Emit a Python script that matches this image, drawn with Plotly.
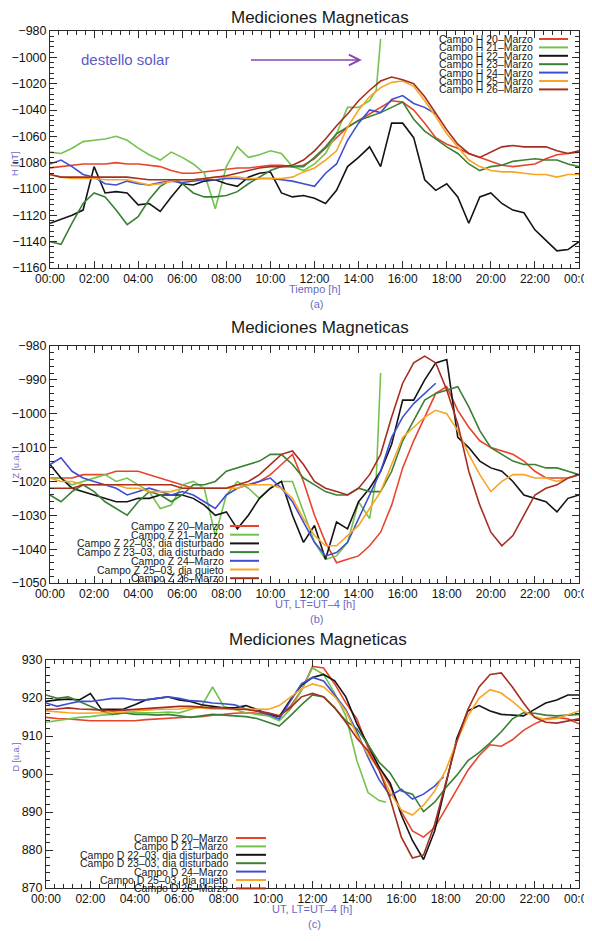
import plotly.graph_objects as go

W, H = 592, 941
OFF = 8          # the html body margin shifts the figure by 8 px
FW, FH = W - OFF, H - OFF
FONT = "Liberation Sans, Arial, Helvetica, sans-serif"

# ---------------- data ----------------
HOURS = [0, 0.5, 1, 1.5, 2, 2.5, 3, 3.5, 4, 4.5, 5, 5.5, 6, 6.5, 7, 7.5, 8, 8.5, 9, 9.5,
         10, 10.5, 11, 11.5, 12, 12.5, 13, 13.5, 14, 14.5, 15, 15.5, 16, 16.5, 17, 17.5,
         18, 18.5, 19, 19.5, 20, 20.5, 21, 21.5, 22, 22.5, 23, 23.5, 24]
HOURS_21_AB = HOURS[:30] + [14.8, 15.0]      # 21-Marzo record stops at the flare
HOURS_21_C = HOURS[:30] + [15.0, 15.3]
HOURS_24_AB = HOURS[:36]                    # 24-Marzo record stops ~17:30
HOURS_24_C = HOURS[:36] + [17.9]

TICK_VALS = [0, 2, 4, 6, 8, 10, 12, 14, 16, 18, 20, 22, 24]
TICK_TEXT = ["00:00", "02:00", "04:00", "06:00", "08:00", "10:00", "12:00",
             "14:00", "16:00", "18:00", "20:00", "22:00", "00:00"]

# Panel (a): campo H [nT]
H20 = [-1084,-1083,-1082,-1081,-1081,-1081,-1080,-1081,-1081,-1082,-1083,-1086,-1088,-1088,-1087,-1086,-1085,-1084,-1084,-1083,
       -1082,-1082,-1083,-1082,-1077,-1069,-1061,-1053,-1048,-1043,-1038,-1033,-1034,-1040,-1050,-1061,-1066,-1069,-1073,-1076,
       -1079,-1082,-1083,-1082,-1081,-1077,-1074,-1073,-1072]
H21 = [-1072,-1073,-1069,-1064,-1063,-1062,-1060,-1063,-1069,-1074,-1078,-1072,-1076,-1081,-1088,-1115,-1083,-1068,-1076,-1074,
       -1071,-1073,-1083,-1086,-1081,-1073,-1058,-1038,-1038,-1033,-1025,-986]
H22 = [-1126,-1123,-1120,-1116,-1083,-1103,-1102,-1103,-1112,-1111,-1117,-1106,-1096,-1097,-1094,-1093,-1096,-1098,-1091,-1088,
       -1087,-1103,-1106,-1105,-1107,-1111,-1101,-1083,-1076,-1068,-1083,-1050,-1050,-1061,-1093,-1101,-1096,-1106,-1126,-1106,
       -1103,-1111,-1116,-1118,-1131,-1139,-1147,-1146,-1140]
H23 = [-1140,-1142,-1126,-1111,-1103,-1106,-1116,-1127,-1121,-1108,-1098,-1093,-1096,-1103,-1106,-1106,-1105,-1102,-1096,-1091,
       -1086,-1083,-1083,-1083,-1076,-1068,-1058,-1053,-1048,-1045,-1042,-1038,-1034,-1047,-1056,-1062,-1068,-1073,-1081,-1086,
       -1083,-1082,-1079,-1078,-1077,-1078,-1078,-1081,-1083]
H24 = [-1081,-1078,-1083,-1089,-1091,-1096,-1097,-1094,-1096,-1097,-1095,-1094,-1095,-1094,-1093,-1093,-1092,-1092,-1093,-1092,
       -1092,-1093,-1094,-1096,-1098,-1088,-1081,-1063,-1050,-1040,-1042,-1032,-1029,-1035,-1038,-1043]
H25 = [-1089,-1091,-1092,-1092,-1092,-1093,-1093,-1093,-1095,-1097,-1096,-1094,-1093,-1093,-1092,-1091,-1091,-1091,-1092,-1092,
       -1092,-1092,-1091,-1087,-1084,-1078,-1071,-1053,-1040,-1030,-1023,-1019,-1018,-1022,-1033,-1045,-1058,-1068,-1078,-1083,
       -1086,-1087,-1087,-1088,-1089,-1089,-1091,-1089,-1089]
H26 = [-1089,-1091,-1091,-1091,-1091,-1091,-1091,-1091,-1092,-1093,-1093,-1093,-1093,-1093,-1092,-1091,-1090,-1088,-1086,-1084,
       -1083,-1083,-1082,-1078,-1071,-1062,-1052,-1043,-1033,-1025,-1018,-1015,-1017,-1020,-1030,-1043,-1055,-1066,-1073,-1076,
       -1072,-1068,-1067,-1068,-1068,-1068,-1071,-1073,-1071]

# Panel (b): campo Z [u.a.]
Z20 = [-1019,-1019,-1019,-1018,-1018,-1018,-1017,-1017,-1017,-1018,-1019,-1020,-1021,-1022,-1022,-1022,-1022,-1021,-1021,-1020,
       -1018,-1015,-1012,-1020,-1030,-1038,-1044,-1043,-1042,-1039,-1035,-1027,-1016,-1008,-1001,-994,-992,-999,-1004,-1008,
       -1010,-1011,-1012,-1014,-1017,-1019,-1019,-1019,-1018]
Z21 = [-1019,-1019,-1021,-1020,-1019,-1018,-1020,-1019,-1021,-1023,-1028,-1027,-1021,-1020,-1022,-1036,-1024,-1020,-1022,-1025,
       -1022,-1020,-1020,-1029,-1038,-1043,-1042,-1038,-1026,-1031,-1019,-988]
Z22 = [-1015,-1019,-1022,-1023,-1024,-1025,-1026,-1026,-1025,-1025,-1024,-1024,-1024,-1025,-1027,-1030,-1029,-1034,-1030,-1025,
       -1022,-1020,-1030,-1038,-1033,-1043,-1032,-1034,-1026,-1022,-1017,-1009,-996,-996,-990,-985,-984,-1007,-1010,-1014,
       -1016,-1017,-1020,-1024,-1025,-1026,-1029,-1025,-1024]
Z23 = [-1024,-1026,-1023,-1021,-1023,-1026,-1028,-1030,-1026,-1023,-1024,-1026,-1024,-1021,-1021,-1020,-1017,-1016,-1015,-1014,
       -1012,-1012,-1015,-1019,-1021,-1023,-1024,-1024,-1022,-1023,-1023,-1017,-1008,-1002,-996,-994,-993,-992,-998,-1005,
       -1010,-1012,-1014,-1015,-1015,-1016,-1016,-1017,-1018]
Z24 = [-1015,-1013,-1017,-1019,-1020,-1021,-1022,-1024,-1023,-1022,-1023,-1024,-1023,-1024,-1026,-1028,-1024,-1022,-1021,-1020,
       -1019,-1022,-1026,-1032,-1038,-1042,-1041,-1038,-1031,-1024,-1017,-1007,-1001,-997,-994,-991]
Z25 = [-1019,-1020,-1020,-1021,-1021,-1021,-1021,-1022,-1022,-1023,-1023,-1023,-1022,-1022,-1022,-1022,-1022,-1022,-1021,-1021,
       -1021,-1022,-1025,-1031,-1036,-1039,-1039,-1036,-1033,-1028,-1023,-1015,-1007,-1004,-1001,-999,-1000,-1005,-1012,-1018,
       -1023,-1020,-1018,-1018,-1019,-1019,-1020,-1019,-1018]
Z26 = [-1022,-1022,-1022,-1021,-1021,-1021,-1021,-1021,-1021,-1021,-1021,-1021,-1022,-1022,-1022,-1022,-1022,-1021,-1020,-1018,
       -1015,-1012,-1011,-1015,-1020,-1022,-1023,-1024,-1022,-1018,-1012,-1001,-991,-985,-983,-985,-993,-1003,-1017,-1027,
       -1035,-1039,-1036,-1030,-1024,-1022,-1021,-1019,-1018]

# Panel (c): campo D [u.a.]
D20 = [914.9,914.6,914.5,914.3,914,914,914,914,914,914.3,914.5,914.6,914.9,915,915.1,915.5,915.7,916,916.1,916,
       915.7,915.3,917.8,922,928.3,927.9,923.7,918.7,914.5,906.9,901.8,896.8,890.1,885,883.4,885.9,890.9,896,901,904.8,
       907.7,907.3,909,911.5,913.2,914.5,914.9,914.5,913.2]
D21 = [913.6,914,914.5,914.9,915.1,915.5,915.7,916,916.1,916.1,916.1,916.3,916.1,917,917.8,922.9,917.8,917,916.1,915.7,
       915.3,914,917,922,927.9,926.2,921.2,915.3,903.5,895.1,893,892.6]
D22 = [919.1,919.5,919.7,919.5,921.2,917,917,917.1,918.2,919.5,919.9,920.3,919.5,919.1,918.2,917.8,917.4,917.4,918,917,
       915.7,915.1,919.5,923.3,925.4,926.2,924.5,920.3,913.2,907.7,901.8,897.6,889.2,882.5,877.5,885,897.6,909.4,916.6,918,
       916.6,915.7,915.5,915.3,917,918.7,919.5,920.8,920.8]
D23 = [920.8,919.9,920.3,919.1,917.8,916.6,915.7,916.1,915.7,915.7,915.5,915.7,915.3,914.9,915.3,915.7,915.5,915.3,915.1,914.6,
       913.6,912.6,915.3,918.2,920.8,920.3,917.4,914,911.9,907.7,903.1,900.2,895.5,894.7,890.1,892.6,896.4,899.7,903.5,905.6,
       908.2,911.1,914.5,916.1,916,915.5,915.3,915.5,915.7]
D24 = [918.7,917.8,918.5,919.1,919.1,919.5,919.9,919.9,919.5,919.5,919.9,920.3,919.9,919.3,919.1,918.7,918.5,918.2,917.1,916.6,
       915.7,914.5,919.1,923.7,925.4,924.5,920.8,917,911.1,904.4,898.5,894.3,896,893.4,894.7,896.8,899.3]
D25 = [916.6,916.3,916.1,916,916,916.1,916.1,916.3,916.6,916.8,917,917.1,917.1,917.4,917.4,917.1,917,917,917.1,917,
       917,918,920.3,922.4,923.7,922.9,920.3,916.6,910.3,905.2,901,895.1,890.5,889.2,891.8,895.5,901,908.6,915.3,919.9,
       922.2,921.3,919.1,916.6,915.1,914.3,914.6,915.7,916.6]
D26 = [917,917.1,917.4,917.1,917,916.8,916.6,916.8,917,917.1,917.4,917.6,917.8,917.8,917.6,917.4,917.4,917.1,917,916.6,
       916.1,915.3,917.4,920.3,921.2,920.3,917.4,913.6,909.4,906.1,901,893.4,883.4,877.9,878.7,886.7,897.6,908.6,917,922.9,
       926.2,926.6,922.9,918.7,914.9,913.6,913.4,914,914.5]

LEG_A = ["Campo H 20–Marzo", "Campo H 21–Marzo", "Campo H 22–Marzo", "Campo H 23–Marzo",
         "Campo H 24–Marzo", "Campo H 25–Marzo", "Campo H 26–Marzo"]
LEG_B = ["Campo Z 20–Marzo", "Campo Z 21–Marzo", "Campo Z 22–03, dia disturbado",
         "Campo Z 23–03, dia disturbado", "Campo Z 24–Marzo", "Campo Z 25–03, dia quieto", "Campo Z 26–Marzo"]
LEG_C = ["Campo D 20–Marzo", "Campo D 21–Marzo", "Campo D 22–03, dia disturbado",
         "Campo D 23–03, dia disturbado", "Campo D 24–Marzo", "Campo D 25–03, dia quieto", "Campo D 26–Marzo"]

COLORS = ["#e8442c", "#74c34e", "#141414", "#3a8035", "#3e4fd2", "#f8a526", "#a52f1f"]

# ---------------- figure ----------------
def px_x(v):
    return (v - OFF) / FW

def px_y(v):
    return 1 - (v - OFF) / FH

PANELS = [
    dict(ax="", x0=50, x1=579, top=31, bot=268, yr=[-1160, -980], dt=20, mdt=4,
         xs=[HOURS, HOURS_21_AB, HOURS, HOURS, HOURS_24_AB, HOURS, HOURS],
         ys=[H20, H21, H22, H23, H24, H25, H26], leg=LEG_A,
         legx=535, legl=(539, 568), legy0=39, legdy=8.4,
         xlabel="Tiempo [h]", tag="(a)", ylabel="H [nT]", title_y=17),
    dict(ax="2", x0=50, x1=579, top=346, bot=583, yr=[-1050, -980], dt=10, mdt=2,
         xs=[HOURS, HOURS_21_AB, HOURS, HOURS, HOURS_24_AB, HOURS, HOURS],
         ys=[Z20, Z21, Z22, Z23, Z24, Z25, Z26], leg=LEG_B,
         legx=226, legl=(230, 259), legy0=526, legdy=8.7,
         xlabel="UT, LT=UT–4 [h]", tag="(b)", ylabel="Z [u.a.]", title_y=327),
    dict(ax="3", x0=46, x1=579, top=660, bot=888, yr=[870, 930], dt=10, mdt=2,
         xs=[HOURS, HOURS_21_C, HOURS, HOURS, HOURS_24_C, HOURS, HOURS],
         ys=[D20, D21, D22, D23, D24, D25, D26], leg=LEG_C,
         legx=230, legl=(236, 266), legy0=838, legdy=8.4,
         xlabel="UT, LT=UT–4 [h]", tag="(c)", ylabel="D [u.a.]", title_y=639),
]

fig = go.Figure()
layout = dict(width=FW, height=FH, margin=dict(l=0, r=0, t=0, b=0), autosize=False,
              template="none", paper_bgcolor="white", plot_bgcolor="white",
              showlegend=False, font=dict(family=FONT, color="#111"))
annotations, shapes = [], []
LABEL_COLOR = "#6a6ac4"

axis_common = dict(showline=True, linecolor="#2a2a2a", linewidth=1, mirror="ticks",
                   ticks="inside", ticklen=7, tickwidth=1, tickcolor="#2a2a2a",
                   showgrid=False, zeroline=False, automargin=False,
                   ticklabeloverflow="allow",
                   tickfont=dict(family=FONT, size=12.5, color="#111"))

for p in PANELS:
    xa, ya = "x" + p["ax"], "y" + p["ax"]
    for xs, ys, col in zip(p["xs"], p["ys"], COLORS):
        fig.add_trace(go.Scatter(x=xs, y=ys, mode="lines", xaxis=xa, yaxis=ya,
                                 line=dict(color=col, width=1.6), hoverinfo="skip"))
    layout["xaxis" + p["ax"]] = dict(
        axis_common, domain=[px_x(p["x0"]), px_x(p["x1"])], anchor=ya, range=[0, 24],
        tickmode="array", tickvals=TICK_VALS, ticktext=TICK_TEXT,
        tickfont=dict(family=FONT, size=12, color="#111"),
        minor=dict(ticks="inside", ticklen=4, tickcolor="#2a2a2a", tickmode="linear",
                   tick0=0, dtick=0.4, showgrid=False))
    layout["yaxis" + p["ax"]] = dict(
        axis_common, domain=[px_y(p["bot"]), px_y(p["top"])], anchor=xa, range=p["yr"],
        tickmode="linear", tick0=p["yr"][0], dtick=p["dt"],
        minor=dict(ticks="inside", ticklen=4, tickcolor="#2a2a2a", tickmode="linear",
                   tick0=p["yr"][0], dtick=p["mdt"], showgrid=False))
    cx = (p["x0"] + p["x1"]) / 2
    annotations.append(dict(text="Mediciones Magneticas", x=px_x(cx + 5), y=px_y(p["title_y"]),
                            xref="paper", yref="paper", showarrow=False, yanchor="middle",
                            font=dict(family=FONT, size=17, color="#1a1a1a")))
    annotations.append(dict(text=p["xlabel"], x=px_x(cx), y=px_y(p["bot"] + 21),
                            xref="paper", yref="paper", showarrow=False, yanchor="middle",
                            font=dict(family=FONT, size=11, color=LABEL_COLOR)))
    annotations.append(dict(text=p["tag"], x=px_x(cx + 2), y=px_y(p["bot"] + 36),
                            xref="paper", yref="paper", showarrow=False, yanchor="middle",
                            font=dict(family=FONT, size=11, color=LABEL_COLOR)))
    annotations.append(dict(text=p["ylabel"], x=px_x(8), y=px_y((p["top"] + p["bot"]) / 2),
                            xref="paper", yref="paper", showarrow=False, textangle=-90,
                            font=dict(family=FONT, size=9, color=LABEL_COLOR)))
    for i, (name, col) in enumerate(zip(p["leg"], COLORS)):
        yy = p["legy0"] + i * p["legdy"]
        annotations.append(dict(text=name, x=px_x(p["legx"]), y=px_y(yy), xref="paper", yref="paper",
                                xanchor="right", yanchor="middle", showarrow=False,
                                font=dict(family=FONT, size=10.5, color="#1a1a1a")))
        shapes.append(dict(type="line", xref="paper", yref="paper",
                           x0=px_x(p["legl"][0]), x1=px_x(p["legl"][1]), y0=px_y(yy), y1=px_y(yy),
                           line=dict(color=col, width=2), layer="above"))

# flare annotation in panel (a)
annotations.append(dict(text="destello solar", x=3.4, y=-1001.5, xref="x", yref="y",
                        showarrow=False, font=dict(family=FONT, size=15, color="#5b5bc9")))
annotations.append(dict(text="", x=14.15, y=-1002, xref="x", yref="y",
                        ax=9.05, ay=-1002, axref="x", ayref="y", showarrow=True,
                        arrowhead=5, arrowsize=1.4, arrowwidth=1.5, arrowcolor="#8e44b0"))

layout["annotations"] = annotations
layout["shapes"] = shapes
fig.update_layout(**layout)
fig.write_html("out.html")
